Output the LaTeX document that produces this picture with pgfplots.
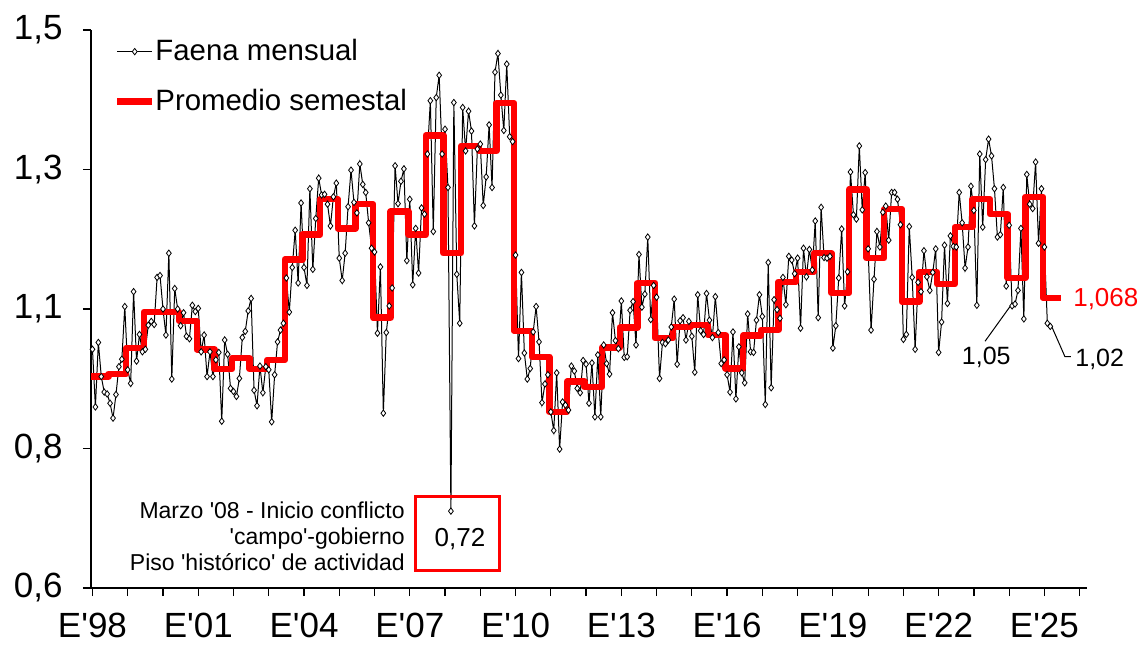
\documentclass[border=0pt]{standalone}
\usepackage{pgfplots}
\pgfplotsset{compat=1.18}
\usepackage{pgfplotstable}
\usepackage{fontspec}
\setmainfont{Liberation Sans}[Ligatures=TeXOff]

% Faena mensual, Jan 1998 - Mar 2025 (one value per month)
\pgfplotstableread[header=false,row sep=\\]{
0.985\\0.892\\0.996\\0.941\\0.916\\0.913\\
0.898\\0.874\\0.912\\0.957\\0.969\\1.054\\
0.952\\0.930\\1.078\\0.966\\1.009\\0.981\\
0.985\\1.024\\1.030\\1.025\\1.101\\1.104\\
1.050\\1.008\\1.140\\0.937\\1.083\\1.050\\
1.023\\1.044\\1.006\\1.002\\1.056\\1.046\\
1.051\\0.981\\1.008\\0.941\\0.981\\0.941\\
0.968\\0.980\\0.869\\1.000\\0.977\\0.922\\
0.917\\0.909\\0.938\\1.004\\1.014\\1.047\\
1.067\\0.919\\0.894\\0.958\\0.915\\0.957\\
0.952\\0.868\\0.944\\0.997\\1.016\\1.027\\
1.100\\1.045\\1.117\\1.177\\1.092\\1.221\\
1.117\\1.088\\1.244\\1.114\\1.196\\1.261\\
1.234\\1.235\\1.219\\1.184\\1.231\\1.253\\
1.132\\1.096\\1.140\\1.215\\1.274\\1.222\\
1.205\\1.284\\1.251\\1.238\\1.189\\1.148\\
1.142\\1.011\\1.118\\0.882\\1.012\\1.055\\
1.084\\1.281\\1.220\\1.256\\1.276\\1.128\\
1.227\\1.089\\1.180\\1.108\\1.213\\1.203\\
1.300\\1.386\\1.175\\1.391\\1.427\\1.300\\
1.340\\1.246\\0.724\\1.383\\1.106\\1.027\\
1.375\\1.305\\1.369\\1.337\\1.184\\1.308\\
1.316\\1.217\\1.263\\1.347\\1.246\\1.432\\
1.462\\1.395\\1.338\\1.445\\1.328\\1.320\\
1.137\\0.970\\1.109\\0.979\\0.937\\0.954\\
1.013\\1.054\\0.997\\0.899\\0.929\\0.944\\
0.884\\0.854\\0.947\\0.824\\0.900\\0.895\\
0.887\\0.958\\0.950\\0.922\\0.915\\0.967\\
0.961\\0.898\\0.963\\0.876\\0.976\\0.876\\
0.992\\0.962\\0.945\\1.044\\0.999\\0.986\\
1.063\\0.972\\0.973\\1.048\\1.062\\0.992\\
1.138\\1.053\\1.074\\1.166\\1.033\\1.088\\
1.069\\0.938\\0.996\\0.994\\1.000\\1.021\\
1.066\\0.961\\1.031\\1.036\\1.000\\1.030\\
1.006\\0.948\\1.073\\1.015\\1.009\\1.075\\
1.032\\1.004\\1.070\\1.012\\0.962\\0.968\\
0.944\\0.916\\1.013\\0.905\\0.989\\0.947\\
0.931\\1.042\\0.981\\0.980\\1.032\\1.073\\
1.038\\0.896\\1.125\\0.923\\1.065\\1.049\\
1.035\\1.101\\1.057\\1.135\\1.129\\1.107\\
1.132\\1.019\\1.148\\1.102\\1.146\\1.113\\
1.192\\1.036\\1.214\\1.133\\1.132\\1.135\\
0.987\\1.023\\1.100\\1.179\\1.055\\1.110\\
1.271\\1.202\\1.195\\1.313\\1.210\\1.270\\
1.147\\1.016\\1.098\\1.175\\1.150\\1.206\\
1.216\\1.161\\1.238\\1.238\\1.227\\1.186\\
1.001\\1.009\\1.183\\1.101\\0.985\\1.093\\
1.078\\1.144\\1.102\\1.080\\1.109\\1.147\\
0.980\\1.029\\1.153\\1.059\\1.168\\1.151\\
1.150\\1.238\\1.189\\1.116\\1.150\\1.248\\
1.209\\1.056\\1.300\\1.182\\1.291\\1.324\\
1.297\\1.244\\1.166\\1.170\\1.246\\1.087\\
1.185\\1.055\\1.058\\1.080\\1.180\\1.034\\
1.267\\1.219\\1.212\\1.287\\1.156\\1.244\\
1.150\\1.027\\1.022\\
}\faena

% Promedio semestral (step starts)
\pgfplotstableread[row sep=\\]{
m v\\
-0.5 0.941\\ 5.5 0.945\\ 11.5 0.987\\ 17.5 1.045\\ 23.5 1.045\\ 29.5 1.031\\
35.5 0.985\\ 41.5 0.953\\ 47.5 0.971\\ 53.5 0.953\\ 59.5 0.968\\ 65.5 1.130\\
71.5 1.170\\ 77.5 1.227\\ 83.5 1.180\\ 89.5 1.219\\ 95.5 1.036\\ 101.5 1.207\\
107.5 1.170\\ 113.5 1.330\\ 119.5 1.140\\ 125.5 1.313\\ 131.5 1.305\\ 137.5 1.382\\
143.5 1.015\\ 149.5 0.973\\ 155.5 0.884\\ 161.5 0.933\\ 167.5 0.924\\ 173.5 0.988\\
179.5 1.020\\ 185.5 1.092\\ 191.5 1.003\\ 197.5 1.021\\ 203.5 1.024\\ 209.5 1.008\\
215.5 0.954\\ 221.5 1.007\\ 227.5 1.016\\ 233.5 1.094\\ 239.5 1.110\\ 245.5 1.140\\
251.5 1.076\\ 257.5 1.243\\ 263.5 1.132\\ 269.5 1.211\\ 275.5 1.062\\ 281.5 1.110\\
287.5 1.090\\ 293.5 1.182\\ 299.5 1.227\\ 305.5 1.203\\ 311.5 1.100\\ 317.5 1.231\\
323.5 1.068\\ 329.6 1.068\\
}\semestral

\begin{document}
\begin{tikzpicture}
\begin{axis}[
  at={(0,0)}, anchor=south west,
  scale only axis, width=498pt, height=279pt,
  xmin=-0.5, xmax=338.5, ymin=0.6, ymax=1.5,
  axis x line*=bottom, axis y line*=left,
  axis line style={line width=0.6pt, black},
  xtick={0,12,...,336},
  xticklabels={E'98,,,E'01,,,E'04,,,E'07,,,E'10,,,E'13,,,E'16,,,E'19,,,E'22,,,E'25,,},
  ytick={0.6,0.825,1.05,1.275,1.5},
  yticklabels={{0,6},{0,8},{1,1},{1,3},{1,5}},
  tick align=outside, major tick length=4pt,
  tick style={line width=0.6pt, black},
  xticklabel style={font=\fontsize{17.5}{20}\selectfont, anchor=north, inner sep=0pt, yshift=-8.5pt},
  yticklabel style={font=\fontsize{17.5}{20}\selectfont, anchor=east, inner sep=0pt, xshift=-10pt},
  clip=false,
  legend style={at={(axis description cs:0.0231,0.983)}, anchor=north west,
    draw=none, fill=none, inner sep=0pt, outer sep=0pt,
    row sep=12.8pt, column sep=0pt,
    font=\fontsize{14.7}{17}\selectfont,
    nodes={inner sep=0pt}},
  legend cell align=left,
  legend image code/.code={\draw[mark repeat=2,mark phase=2,#1] plot coordinates {(0pt,0pt) (8.75pt,0pt) (17.5pt,0pt)};},
]
\addplot[black, line width=0.5pt, mark=diamond*, mark size=1.6pt,
  mark options={fill=white, draw=black, line width=0.4pt, solid}]
  table[x expr=\coordindex, y index=0] {\faena};
\addlegendentry{Faena mensual}
\addplot[red, line width=3.2pt, const plot, line join=round, no marks]
  table[x=m, y=v] {\semestral};
\addlegendentry{Promedio semestal}

% annotations
\node[anchor=base east, font=\fontsize{11.5}{13}\selectfont, inner sep=0pt] at (axis cs:106.4,0.7129) {Marzo '08 - Inicio conflicto};
\node[anchor=base east, font=\fontsize{11.5}{13}\selectfont, inner sep=0pt] at (axis cs:106.4,0.6694) {'campo'-gobierno};
\node[anchor=base east, font=\fontsize{11.5}{13}\selectfont, inner sep=0pt] at (axis cs:106.4,0.629) {Piso 'histórico' de actividad};
\draw[red, line width=1.5pt] (axis cs:109.8,0.629) rectangle (axis cs:138.7,0.747);
\node[anchor=base, font=\fontsize{13}{15}\selectfont, inner sep=0pt] at (axis cs:125.1,0.6673) {0,72};

\node[anchor=base west, font=\fontsize{13}{15}\selectfont, inner sep=0pt, text=red] at (axis cs:333.7,1.0544) {1,068};

\draw[black, line width=0.5pt] (axis cs:312.6,1.056) -- (axis cs:303.8,0.998);
\node[anchor=base, font=\fontsize{12.5}{15}\selectfont, inner sep=0pt] at (axis cs:304.2,0.9597) {1,05};
\draw[black, line width=0.5pt] (axis cs:326,1.027) -- (axis cs:331,0.973) -- (axis cs:333,0.973);
\node[anchor=base west, font=\fontsize{12.5}{15}\selectfont, inner sep=0pt] at (axis cs:334.4,0.958) {1,02};
\end{axis}
\pgfresetboundingbox
\useasboundingbox (-45.5pt,-28pt) rectangle (523.5pt,294pt);
\end{tikzpicture}
\end{document}
